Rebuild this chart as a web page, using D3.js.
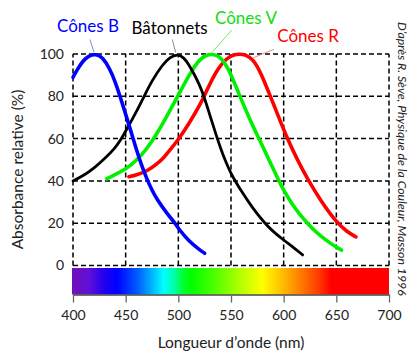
<!DOCTYPE html>
<html>
<head>
<meta charset="utf-8">
<script src="https://cdn.jsdelivr.net/npm/d3@7"></script>
<style>
	body { margin: 0; background: #fff; }
	svg { display: block; }
	text { font-family: Lato, "Open Sans", sans-serif; }
</style>
</head>
<body>
<div id="chart"></div>
<script>

const wavelengthTicks = [400, 450, 500, 550, 600, 650, 700];
const absorbanceTicks = [0, 20, 40, 60, 80, 100];

// curves (nm, % absorbance)
const conesBNm  = [400, 405, 410, 415, 422, 428, 435, 440, 445, 450, 455, 460, 465, 470, 475, 480, 490, 497, 500, 510, 520, 525];
const conesBAbs = [89, 93.5, 97, 99.3, 100, 98.5, 93, 87, 79.5, 71.5, 63.5, 55, 47.5, 41, 35.5, 31, 24, 20, 17.5, 11.5, 7.5, 5.8];

const rodsNm  = [400, 410, 420, 430, 440, 446, 450, 460, 467, 475, 485, 492, 499, 505, 510, 515, 520, 524, 530, 536, 540, 545, 550, 554, 560, 570, 582, 590, 600, 610, 618];
const rodsAbs = [40, 42.5, 46, 50.5, 55.5, 60, 63.5, 72.5, 79.5, 87.5, 95, 98.5, 100, 98.5, 95, 90.5, 85.5, 80.5, 71, 61.5, 55.5, 49, 43.5, 40, 35, 27.5, 20, 16, 12, 8.3, 5];

const conesVNm  = [432, 440, 450, 460, 470, 480, 490, 500, 510, 520, 526, 532, 538, 544, 550, 558, 567, 577, 586, 595, 600, 608, 615, 622, 630, 640, 650, 655];
const conesVAbs = [41, 43, 45.5, 49.5, 55, 62.5, 71.5, 80.5, 90, 97.5, 99.4, 100, 99.2, 96, 90.5, 80.5, 70, 59.5, 50, 40.5, 35.5, 29, 24.3, 20.3, 16, 12, 8.6, 7.3];

const conesRNm  = [453, 460, 470, 480, 487, 490, 500, 510, 520, 524, 530, 538, 546, 552, 558, 564, 571, 578, 587, 595, 603.5, 613, 623, 636, 650, 660, 668.7];
const conesRAbs = [42, 42.8, 44.5, 48, 51.5, 53.3, 59.5, 67, 75.5, 79.5, 86, 93.5, 98, 99.6, 100, 99.6, 97.5, 91.5, 80.5, 70.5, 60, 50, 40.5, 30, 20.5, 16, 13.5];

const curveNames = ['Cônes B', 'Bâtonnets', 'Cônes V', 'Cônes R'];

const spectrumNm     = [400, 415, 430, 442, 462, 478, 486, 495, 505, 512, 535, 560, 580, 598, 615, 632, 645, 700];
const spectrumColors = ['#7010b8', '#6010d8', '#2000f0', '#0000ff', '#0060ff', '#00c8ff', '#00ffff', '#00ffb0', '#00ff30', '#00ff00', '#50ff00', '#b8ff00', '#ffff00', '#ffc000', '#ff8000', '#ff4000', '#ff0000', '#ff0000'];

const width = 414;
const height = 364;

const series = [
	{ name: curveNames[3], nm: conesRNm, abs: conesRAbs, color: '#ff0000', stroke: 3.6 },
	{ name: curveNames[2], nm: conesVNm, abs: conesVAbs, color: '#00f000', stroke: 3.6 },
	{ name: curveNames[1], nm: rodsNm, abs: rodsAbs, color: '#000000', stroke: 2.8 },
	{ name: curveNames[0], nm: conesBNm, abs: conesBAbs, color: '#0000ff', stroke: 3.6 }
];

// label placement: text anchor in px, leader from text to a point on the curve
const labels = [
	{ name: curveNames[0], color: '#0000ff', lead: '#8a8ac8', tx: 57, ty: 31.7, lx: 90, ly: 39.5, nm: 420, abs: 100 },
	{ name: curveNames[1], color: '#000000', lead: '#8c8c8c', tx: 131.5, ty: 34.3, lx: 172.3, ly: 39.5, nm: 497.5, abs: 100 },
	{ name: curveNames[2], color: '#10dd10', lead: '#80e080', tx: 215, ty: 24.3, lx: 231.7, ly: 30, nm: 532, abs: 100 },
	{ name: curveNames[3], color: '#ff0000', lead: '#e89090', tx: 277.3, ty: 41.7, lx: 274, ly: 49.3, nm: 571, abs: 97.5 }
];

const x = d3.scaleLinear()
	.domain([400, 700])
	.range([73, 389]);

const y = d3.scaleLinear()
	.domain([0, 100])
	.range([265.5, 54]);

const svg = d3.select('#chart')
	.append('svg')
	.attr('width', width)
	.attr('height', height);

// spectrum bar under the plot
const grad = svg.append('defs')
	.append('linearGradient')
	.attr('id', 'spectrum')
	.attr('gradientUnits', 'userSpaceOnUse')
	.attr('x1', x(400))
	.attr('x2', x(700))
	.attr('y1', 0)
	.attr('y2', 0);

grad.selectAll('stop')
	.data(spectrumNm)
	.enter()
	.append('stop')
	.attr('offset', d => (d - 400) / 300)
	.attr('stop-color', (d, i) => spectrumColors[i]);

svg.append('rect')
	.attr('x', x(400) - 1)
	.attr('y', 268)
	.attr('width', x(700) - x(400) + 1)
	.attr('height', 26.5)
	.attr('fill', 'url(#spectrum)');

const xAxis = d3.axisBottom(x)
	.tickValues(wavelengthTicks)
	.tickSize(8)
	.tickSizeOuter(0)
	.tickPadding(8)
	.tickFormat(d3.format('d'));

const gx = svg.append('g')
	.attr('transform', 'translate(0, 294.5)')
	.call(xAxis);

gx.select('.domain').attr('stroke', '#444').attr('stroke-width', 1.5);
gx.selectAll('.tick line').attr('stroke', '#666').attr('stroke-width', 1.3);
gx.selectAll('.tick text')
	.attr('fill', '#222')
	.style('font-size', '14px')
	.style('font-family', 'Lato, sans-serif');

// dashed grid
svg.append('g')
	.selectAll('line')
	.data(wavelengthTicks)
	.enter()
	.append('line')
	.attr('x1', d => x(d))
	.attr('x2', d => x(d))
	.attr('y1', y(0))
	.attr('y2', y(100))
	.attr('stroke', '#000')
	.attr('stroke-width', 1.5)
	.attr('stroke-dasharray', '5,3');

svg.append('g')
	.selectAll('line')
	.data(absorbanceTicks)
	.enter()
	.append('line')
	.attr('x1', x(400))
	.attr('x2', x(700))
	.attr('y1', d => y(d))
	.attr('y2', d => y(d))
	.attr('stroke', '#000')
	.attr('stroke-width', 1.5)
	.attr('stroke-dasharray', '5,3');

svg.append('g')
	.selectAll('text')
	.data(absorbanceTicks)
	.enter()
	.append('text')
	.attr('x', 64)
	.attr('y', d => y(d))
	.attr('dy', '0.35em')
	.style('text-anchor', 'end')
	.style('font-size', '14px')
	.attr('fill', '#222')
	.text(d => d);

// curves
const line = d3.line()
	.x(d => x(d[0]))
	.y(d => y(d[1]))
	.curve(d3.curveBasis);

svg.append('g')
	.selectAll('path')
	.data(series)
	.enter()
	.append('path')
	.attr('d', s => line(s.nm.map((v, i) => [v, s.abs[i]])))
	.attr('fill', 'none')
	.attr('stroke', s => s.color)
	.attr('stroke-width', s => s.stroke)
	.attr('stroke-linecap', 'round')
	.attr('stroke-linejoin', 'round');

// curve names and leaders
svg.append('g')
	.selectAll('line')
	.data(labels)
	.enter()
	.append('line')
	.attr('x1', d => d.lx)
	.attr('y1', d => d.ly)
	.attr('x2', d => x(d.nm))
	.attr('y2', d => y(d.abs) - 1.5)
	.attr('stroke', d => d.lead)
	.attr('stroke-width', 1);

svg.append('g')
	.selectAll('text')
	.data(labels)
	.enter()
	.append('text')
	.attr('x', d => d.tx)
	.attr('y', d => d.ty)
	.attr('fill', d => d.color)
	.style('font-size', '17px')
	.text(d => d.name);

// axis titles
svg.append('text')
	.attr('transform', `translate(${(x(400) + x(700)) / 2}, 348)`)
	.style('text-anchor', 'middle')
	.style('font-size', '15.5px')
	.attr('fill', '#222')
	.text('Longueur d’onde (nm)');

svg.append('text')
	.attr('transform', 'translate(23, 169.5) rotate(-90)')
	.style('text-anchor', 'middle')
	.style('font-size', '15.5px')
	.attr('fill', '#222')
	.text('Absorbance relative (%)');

svg.append('text')
	.attr('transform', 'translate(398, 22) rotate(90)')
	.style('font-size', '12.3px')
	.style('font-style', 'italic')
	.attr('fill', '#222')
	.text('D’après R. Sève, Physique de la Couleur, Masson 1996');

</script>
</body>
</html>
